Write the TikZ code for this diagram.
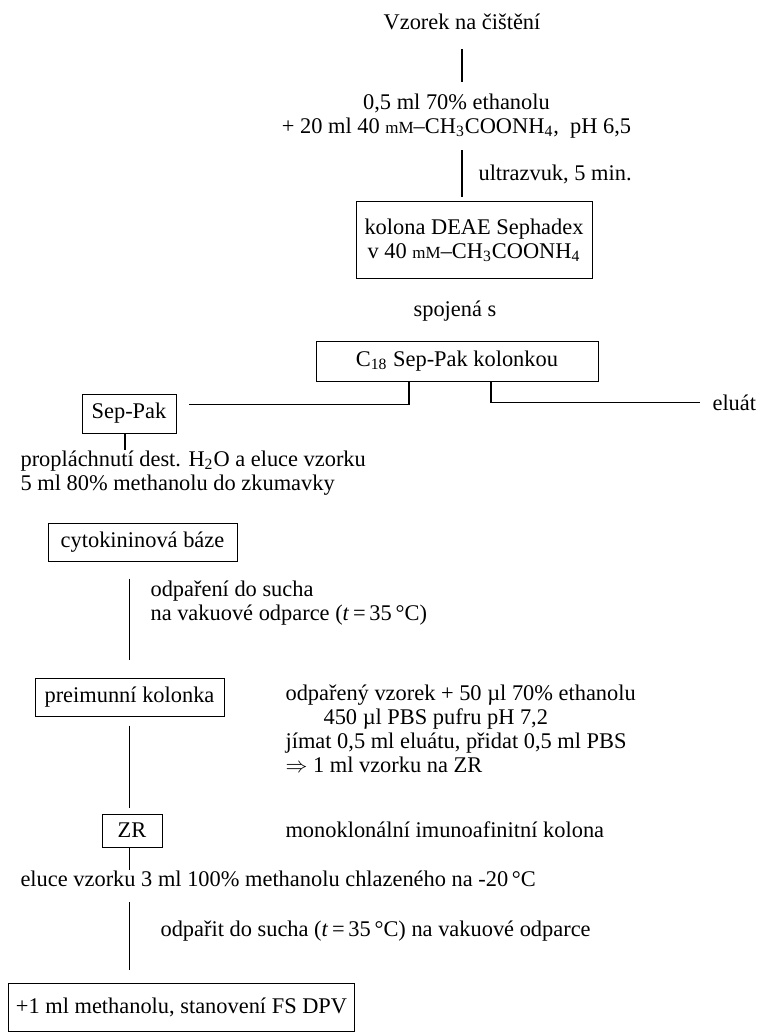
\documentclass[tikz,border=0pt]{standalone}
\usepackage{fontspec}
\setmainfont{Liberation Serif}
\usepackage{tikz}
\usetikzlibrary{positioning}

\newcommand{\mMol}{{\fontsize{8.5}{9}\selectfont mM}}

\begin{document}
\begin{tikzpicture}[x=0.5pt, y=-0.5pt, line width=0.55pt,
    every node/.style={font=\fontsize{11.2}{12}\selectfont},
    box/.style={rectangle, draw, line width=0.5pt, inner sep=0pt, text centered},
    txt/.style={inner sep=0pt},
    line/.style={draw, line width=0.55pt}]
    \useasboundingbox (0,0) rectangle (758,1032);

    \node [txt, anchor=base] (vzorek) at (462,30) {Vzorek na čištění};
    \node [txt, align=center] (roztok) at (456.5,116) {0,5 ml 70\% ethanolu\\
        + 20 ml 40 \mMol--CH\textsubscript{3}COONH\textsubscript{4},\ \ pH 6,5};
    \node [txt, anchor=base west] (ultra) at (478,181) {ultrazvuk, 5 min.};
    \node [box, align=center, minimum width=118pt, minimum height=38pt] (kolona) at (474,240)
        {kolona DEAE Sephadex\\ v 40 \mMol--CH\textsubscript{3}COONH\textsubscript{4}};
    \node [txt, anchor=base] (spojena) at (455,316) {spojená s};
    \node [box, minimum width=141pt, minimum height=20pt] (c18) at (457,361)
        {C\textsubscript{18} Sep-Pak kolonkou};
    \node [box, minimum width=47pt, minimum height=19.5pt] (sepak) at (129,413.5) {Sep-Pak};
    \node [txt, anchor=base west] (eluat) at (712,410) {eluát};
    \node [txt, align=left, anchor=north west] (propl) at (20,450)
        {propláchnutí dest. H\textsubscript{2}O a eluce vzorku\\ 5 ml 80\% methanolu do zkumavky};
    \node [box, minimum width=94.5pt, minimum height=19pt] (cyto) at (142.5,542) {cytokininová báze};
    \node [txt, align=left, anchor=north west] (odpar) at (150,580)
        {odpaření do sucha\\ na vakuové odparce (\textit{t}\,=\,35\,°C)};
    \node [box, minimum width=94.5pt, minimum height=19pt] (preim) at (129.5,697) {preimunní kolonka};
    \node [txt, align=left, anchor=north west] (pbs) at (285,684)
        {odpařený vzorek + 50 µl 70\% ethanolu\\
        \hspace*{19pt}450 µl PBS pufru pH 7,2\\
        jímat 0,5 ml eluátu, přidat 0,5 ml PBS\\
        $\Rightarrow$ 1 ml vzorku na ZR};
    \node [box, minimum width=30pt, minimum height=16.5pt] (zr) at (132,830.5) {ZR};
    \node [txt, anchor=base west] (mono) at (285,837) {monoklonální imunoafinitní kolona};
    \node [txt, anchor=base west] (eluce) at (20,886)
        {eluce vzorku 3 ml 100\% methanolu chlazeného na -20\,°C};
    \node [txt, anchor=base west] (odparit) at (160,936)
        {odpařit do sucha (\textit{t}\,=\,35\,°C) na vakuové odparce};
    \node [box, anchor=north west, minimum width=173pt, minimum height=24pt] (stanov) at (8,983)
        {+1 ml methanolu, stanovení FS DPV};

    \path [line, shorten <=9pt, shorten >=5.5pt] (vzorek.south) -- (vzorek.south |- roztok.north);
    \path [line, shorten <=5.75pt, shorten >=2pt] (roztok.south -| vzorek.south) -- (vzorek.south |- kolona.north);
    \path [line, shorten >=6pt] ([xshift=-24pt]c18.south) |- ([yshift=4.5pt]sepak.east);
    \path [line, shorten >=6pt] ([xshift=17pt]c18.south) |- (eluat.west);
    \path [line] ([xshift=-2pt]sepak.south) -- ([xshift=-2pt]sepak.south |- propl.north);
    \path [line, shorten <=8.5pt, shorten >=9pt] (cyto.south -| preim.north) -- (preim.north);
    \path [line, shorten <=4.5pt, shorten >=3pt] (preim.south) -- (preim.south |- zr.north);
    \path [line] (preim.south |- zr.south) -- (preim.south |- eluce.north);
    \path [line, shorten <=7.5pt, shorten >=6.5pt] (preim.south |- eluce.south) -- (preim.south |- stanov.north);
\end{tikzpicture}
\end{document}
